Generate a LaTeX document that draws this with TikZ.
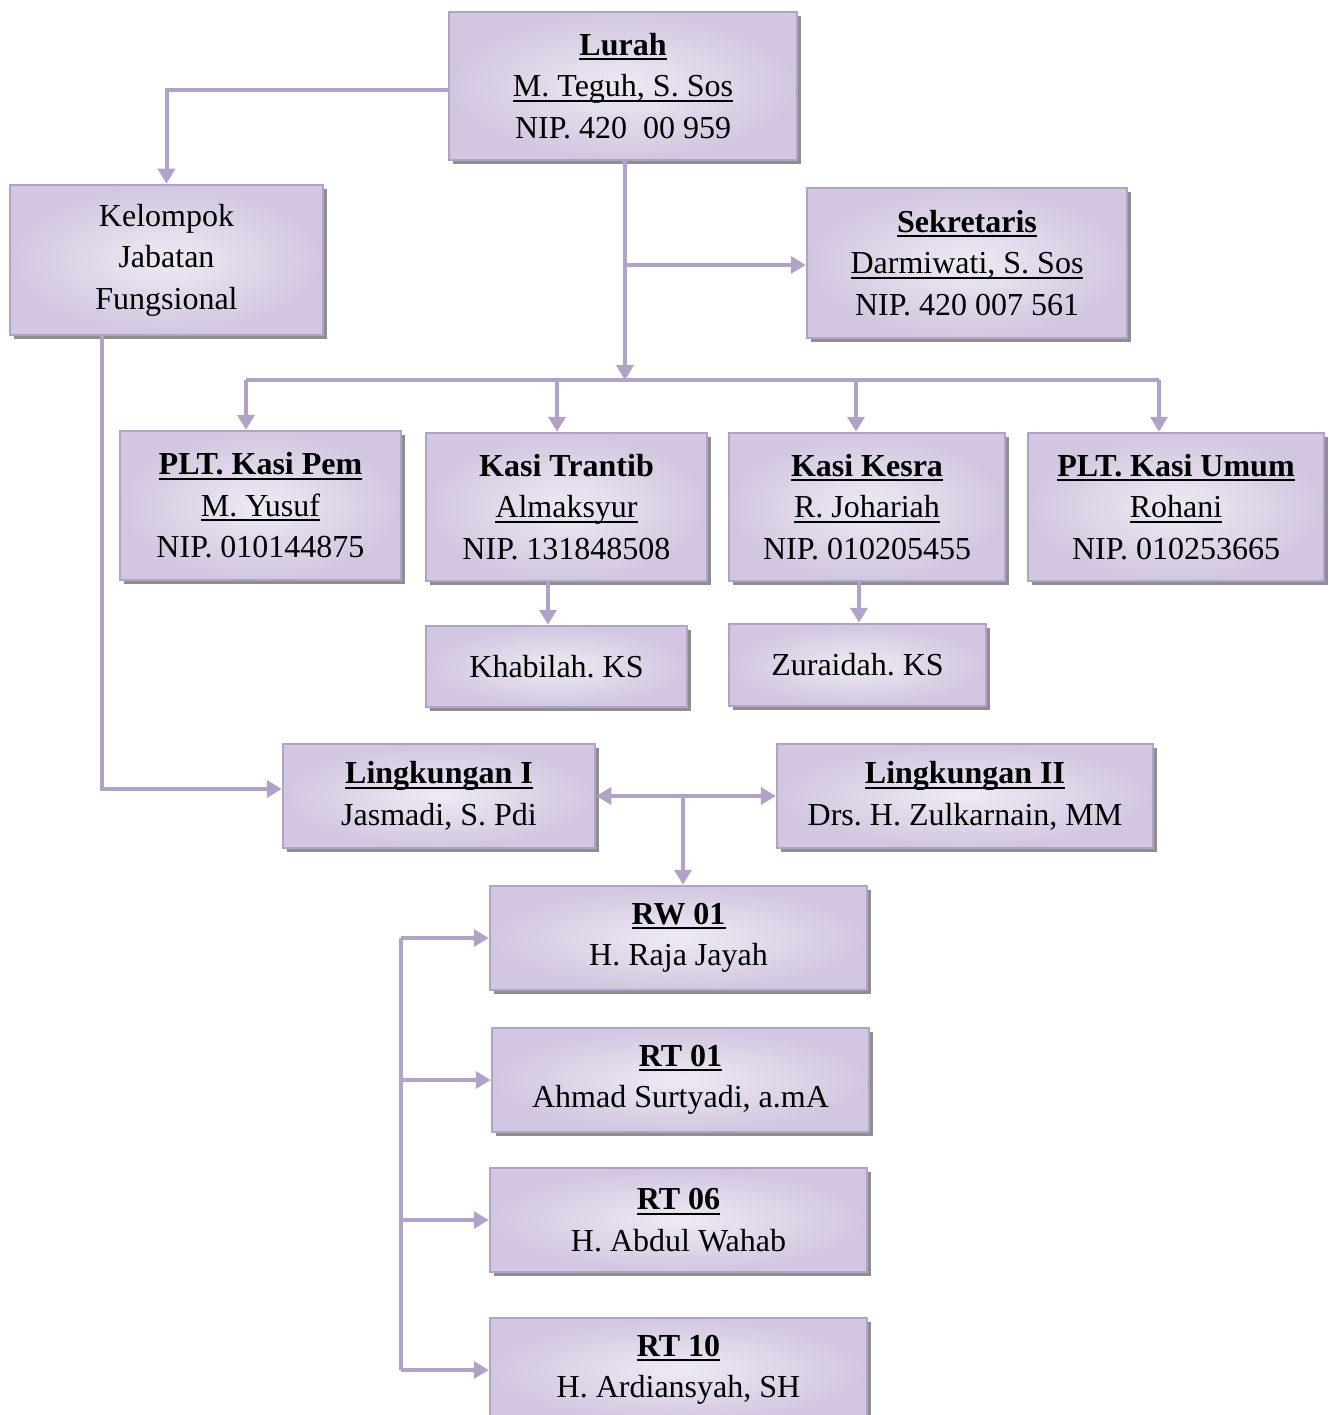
\documentclass[tikz,border=0pt]{standalone}
\usepackage{fontspec}
\setmainfont{Liberation Serif}
\usetikzlibrary{arrows.meta,shadows}
\definecolor{lav}{HTML}{B3A2C7}
\definecolor{lavin}{HTML}{EEEAF4}
\definecolor{lavout}{HTML}{D2C6E0}
\definecolor{shad}{HTML}{8E8E8E}
\newsavebox\ulbox
\newcommand\ulin[1]{\sbox\ulbox{#1}\rlap{\rule[-5pt]{\wd\ulbox}{2pt}}\usebox\ulbox}
\frenchspacing
\begin{document}
\begin{tikzpicture}[x=1pt,y=-1pt,
  orgbox/.style={draw=lav, line width=2.5pt, inner color=lavin, outer color=lavout,
    drop shadow={shadow xshift=4pt,shadow yshift=-4pt,fill=shad,opacity=1},
    align=center, inner sep=0pt, font=\fontsize{32}{41.5}\selectfont\frenchspacing},
  sz/.style 2 args={minimum width=#1pt, minimum height=#2pt},
  conn/.style={draw=lav, line width=4pt},
  arr/.style={conn, -{Triangle[length=15pt,width=17pt]}},
  darr/.style={conn, {Triangle[length=15pt,width=17pt]}-{Triangle[length=15pt,width=17pt]}}]
\fill[white] (0,0) rectangle (1329,1415);
\useasboundingbox (0,0) rectangle (1329,1415);

\node[orgbox, sz={348}{148}] (lurah) at (623,86) {\textbf{\ulin{Lurah}}\\\ulin{M. Teguh, S. Sos}\\NIP. 420\ \ 00 959};
\node[orgbox, sz={313}{150}] (kjf) at (166.5,260) {Kelompok\\Jabatan\\Fungsional};
\node[orgbox, sz={320}{150}] (sek) at (967,263) {\textbf{\ulin{Sekretaris}}\\\ulin{Darmiwati, S. Sos}\\NIP. 420 007 561};
\node[orgbox, sz={281}{149}] (pem) at (260.5,505.5) {\textbf{\ulin{PLT. Kasi Pem}}\\\ulin{M. Yusuf}\\NIP. 010144875};
\node[orgbox, sz={281}{148}] (trantib) at (566.5,507) {\textbf{Kasi Trantib}\\\ulin{Almaksyur}\\NIP. 131848508};
\node[orgbox, sz={276}{148}] (kesra) at (867,507) {\textbf{\ulin{Kasi Kesra}}\\\ulin{R. Johariah}\\NIP. 010205455};
\node[orgbox, sz={296}{148}] (umum) at (1176,507) {\textbf{\ulin{PLT. Kasi Umum}}\\\ulin{Rohani}\\NIP. 010253665};
\node[orgbox, sz={261}{81}] (khab) at (556.5,666.5) {Khabilah. KS};
\node[orgbox, sz={257}{82}] (zur) at (857.5,665) {Zuraidah. KS};
\node[orgbox, sz={312}{104}] (l1) at (439,796) {\textbf{\ulin{Lingkungan I}}\\Jasmadi, S. Pdi};
\node[orgbox, sz={376}{104}] (l2) at (965,796) {\textbf{\ulin{Lingkungan II}}\\Drs. H. Zulkarnain, MM};
\node[orgbox, sz={377}{104}] (rw) at (678.5,938) {\textbf{\ulin{RW 01}}\\H. Raja Jayah};
\node[orgbox, sz={377}{104}] (rt01) at (680.5,1080) {\textbf{\ulin{RT 01}}\\Ahmad Surtyadi, a.mA};
\node[orgbox, sz={377}{104}] (rt06) at (678.5,1220) {\textbf{\ulin{RT 06}}\\H. Abdul Wahab};
\node[orgbox, sz={377}{104}] (rt10) at (678.5,1370) {\textbf{\ulin{RT 10}}\\H. Ardiansyah, SH};

\coordinate (jM) at (625,380);
\coordinate (jL) at (246,380);
\coordinate (jR) at (1159,380);
\coordinate (jT) at (557,380);
\coordinate (jK) at (856,380);
\coordinate (jS) at (625,265);
\coordinate (jLL) at (683,796);
\coordinate (bus) at (401,0);

% Lurah connections
\draw[arr] ([yshift=-4pt]lurah.west) -| (kjf.north);
\draw[arr] (625,0 |- lurah.south) -- (jM);
\draw[arr] (jS) -- (jS -| sek.west);
\draw[conn] (jL) -- (jR);
\draw[arr] (jL) -- (jL |- pem.north);
\draw[arr] (jT) -- (jT |- trantib.north);
\draw[arr] (jK) -- (jK |- kesra.north);
\draw[arr] (jR) -- (jR |- umum.north);
\draw[arr] (548,0 |- trantib.south) -- (548,0 |- khab.north);
\draw[arr] (859,0 |- kesra.south) -- (859,0 |- zur.north);
% Kelompok to Lingkungan I
\draw[arr] (102,0 |- kjf.south) |- ([yshift=7pt]l1.west);
% Lingkungan
\draw[darr] (l1.east) -- (l2.west);
\draw[arr] (jLL) -- (jLL |- rw.north);
% RW/RT bus
\draw[conn] (bus |- rw.west) -- (bus |- rt10.west);
\draw[arr] (bus |- rw.west) -- (rw.west);
\draw[arr] (bus |- rt01.west) -- (rt01.west);
\draw[arr] (bus |- rt06.west) -- (rt06.west);
\draw[arr] (bus |- rt10.west) -- (rt10.west);
\end{tikzpicture}
\end{document}
